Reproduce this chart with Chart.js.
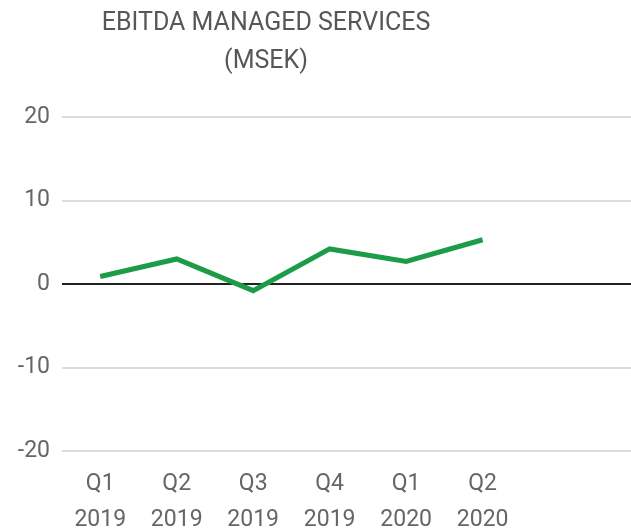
<!DOCTYPE html>
<html>
<head>
<meta charset="utf-8">
<script src="https://cdn.jsdelivr.net/npm/chart.js@4"></script>
<style>
  body { margin: 0; background: #fff; overflow: hidden; }
</style>
</head>
<body>
<canvas id="myChart" width="631" height="531"></canvas>
<script>
// chart data
const titleLines = ["EBITDA MANAGED SERVICES", "(MSEK)"];
const quarters = ["Q1", "Q2", "Q3", "Q4", "Q1", "Q2"];
const years = ["2019", "2019", "2019", "2019", "2020", "2020"];
const ebitda = [0.9, 3.0, -0.8, 4.2, 2.7, 5.3];
const yTicks = [-20, -10, 0, 10, 20];

const points = ebitda.map((v, i) => ({ x: i, y: v }));

// the title in the source sits left of the canvas centre, so draw it ourselves
const titlePlugin = {
  id: "offsetTitle",
  afterDraw(chart) {
    const c = chart.ctx;
    c.save();
    c.fillStyle = "#575757";
    c.font = "25px Roboto";
    c.textAlign = "center";
    c.textBaseline = "middle";
    c.fillText(titleLines[0], 266, 24);
    c.fillText(titleLines[1], 266, 62);
    c.restore();
  },
};

const ctx = document.getElementById("myChart").getContext("2d");
const myChart = new Chart(ctx, {
  type: "line",
  data: {
    datasets: [
      {
        label: "EBITDA",
        data: points,
        borderColor: "#1c9c47",
        borderWidth: 5,
        pointRadius: 0,
        tension: 0,
      },
    ],
  },
  plugins: [titlePlugin],
  options: {
    responsive: false,
    animation: false,
    layout: { padding: { top: 117 } },
    plugins: {
      legend: { display: false },
      tooltip: { enabled: false },
      title: { display: false },
    },
    scales: {
      x: {
        type: "linear",
        min: -0.5,
        max: 6.94,
        grid: { display: false },
        border: { display: false },
        afterBuildTicks: (axis) => {
          axis.ticks = quarters.map((q, i) => ({ value: i }));
        },
        afterFit: (axis) => {
          axis.height = 80;
        },
        ticks: {
          color: "#666",
          padding: 7,
          maxRotation: 0,
          autoSkip: false,
          font: { family: "Roboto", size: 23, lineHeight: 1.57 },
          callback: (v) => [quarters[v], years[v]],
        },
      },
      y: {
        min: -20,
        max: 20,
        border: { display: false },
        afterBuildTicks: (axis) => {
          axis.ticks = yTicks.map((v) => ({ value: v }));
        },
        afterFit: (axis) => {
          axis.width = 62;
        },
        grid: {
          color: (c) => (c.tick && c.tick.value === 0 ? "#222" : "#dcdcdc"),
          lineWidth: 2,
          drawTicks: false,
        },
        ticks: {
          color: "#666",
          padding: 12,
          font: { family: "Roboto", size: 23 },
        },
      },
    },
  },
});
</script>
</body>
</html>
